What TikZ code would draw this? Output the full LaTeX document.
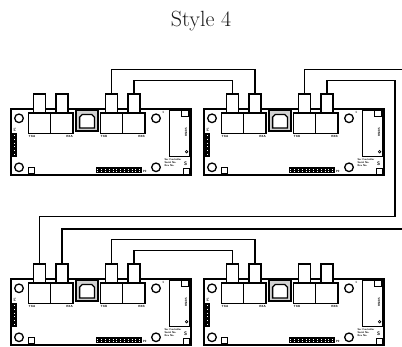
\documentclass[tikz,border=0pt]{standalone}
\usepackage{fontspec}
\usetikzlibrary{calc, positioning}

\tikzset{
  boardline/.style={line width=2pt},
  partline/.style={line width=1.3pt},
  thinline/.style={line width=0.7pt},
  wire/.style={line width=1.45pt},
  pinrow/.style={white, line width=1pt, dash pattern=on 0.9pt off 2.9pt},
  silk/.style={font=\sffamily\bfseries\fontsize{3}{3.4}\selectfont, inner sep=0pt},
}

% one controller board, top left corner at (#2,#3)
\newcommand{\daqboard}[3]{%
  \begin{scope}[shift={(#2,#3)}]
    \draw[boardline] (0,0) rectangle (180,66);
    \draw[partline] (8,9.3) circle (4.3pt) (8,58.3) circle (4.3pt)
      (145,9.3) circle (4.3pt) (145,58.3) circle (4.3pt);
    \draw[thinline] (17.3,58) rectangle (23,64.3);
    % connector bases and towers
    \draw[partline, fill=white] (17.5,4) rectangle ++(22.25,20.5);
    \draw[partline, fill=white] (39.75,4) rectangle ++(22.25,20.5);
    \draw[partline, fill=white] (89.5,4) rectangle ++(22.25,20.5);
    \draw[partline, fill=white] (111.75,4) rectangle ++(22.25,20.5);
    \draw[partline, fill=white] (22.6,-15) rectangle (34.6,4);
    \draw[partline, fill=white] (44.9,-15) rectangle (56.9,4);
    \draw[partline, fill=white] (94.6,-15) rectangle (106.6,4);
    \draw[partline, fill=white] (116.9,-15) rectangle (128.9,4);
    \coordinate (#1-t1) at (28.6,-15);
    \coordinate (#1-t2) at (50.9,-15);
    \coordinate (#1-t3) at (100.6,-15);
    \coordinate (#1-t4) at (122.9,-15);
    \node[silk, anchor=north west] (#1-txa) at (17.5,26.5) {TXA};
    \node[silk, anchor=north east] (#1-rxa) at (62,26.5) {RXA};
    \node[silk, anchor=north west] (#1-txb) at (89.5,26.5) {TXB};
    \node[silk, anchor=north east] (#1-rxb) at (134,26.5) {RXB};
    % usb socket
    \draw[partline, fill=gray!35] (65,1.7) rectangle (87,22);
    \draw[line width=1.3pt, fill=white] (68.6,19) -- (68.6,8.2) -- (71.2,5.6)
      -- (80.8,5.6) -- (83.4,8.2) -- (83.4,19) -- cycle;
    % headers
    \fill (1.3,23.7) rectangle (6.3,47.7);
    \draw[pinrow] (3.8,26) -- (3.8,46);
    \node[silk, rotate=90] (#1-p1) at (3.8,20.5) {P1};
    \fill (85,58.3) rectangle (131,64.3);
    \draw[pinrow] (86.4,60.2) -- (130,60.2);
    \draw[pinrow] (86.4,62.4) -- (130,62.4);
    \node[silk, anchor=west] (#1-p2) at (131.6,62.5) {P2};
    % line driver module
    \draw[line width=1.5pt] (158.3,1) rectangle (178.5,47.5);
    \draw[thinline] (170.7,1.5) rectangle (177.5,7.7);
    \node[silk, rotate=90] (#1-rs) at (175.2,23.5) {RS485};
    \draw[thinline] (175.6,42.7) circle (1.3pt);
    \node[silk] (#1-pin) at (152.3,3.3) {1};
    \node[silk, align=left, anchor=north west, font=\sffamily\bfseries\fontsize{2.6}{3}\selectfont] (#1-tag) at (153.4,49.6)
      {Ser Controller\\Serial No.\\Rev No.};
    \node[silk, font=\sffamily\bfseries\fontsize{5}{5}\selectfont] (#1-mark) at (174.6,55.2) {S};
    \draw[thinline] (172.3,59.3) rectangle (178.3,65.3);
  \end{scope}}

\begin{document}
\begin{tikzpicture}[x=1pt, y=-1pt]
  \useasboundingbox (0,0) rectangle (402,347);

  \node[anchor=base, text=black!90, font=\fontsize{22}{26}\selectfont] (title) at (201,26.5) {Style 4};

  \daqboard{b1}{11}{109}
  \daqboard{b2}{204}{109}
  \daqboard{b3}{11}{279}
  \daqboard{b4}{204}{279}

  \coordinate (offA) at (402,69.5);
  \coordinate (bendD) at (395,216.7);
  \coordinate (offB) at (402,229);

  \draw[wire] (b1-t3) -- ++(0,-24.5) -| (b2-t2);
  \draw[wire] (b1-t4) -- ++(0,-13.3) -| (b2-t1);
  \draw[wire] (b2-t3) |- (offA);
  \draw[wire] (b2-t4) -- ++(0,-13.3) -| (bendD) -| (b3-t1);
  \draw[wire] (offB) -| (b3-t2);
  \draw[wire] (b3-t3) -- ++(0,-24.5) -| (b4-t2);
  \draw[wire] (b3-t4) -- ++(0,-13.3) -| (b4-t1);

\end{tikzpicture}
\end{document}
